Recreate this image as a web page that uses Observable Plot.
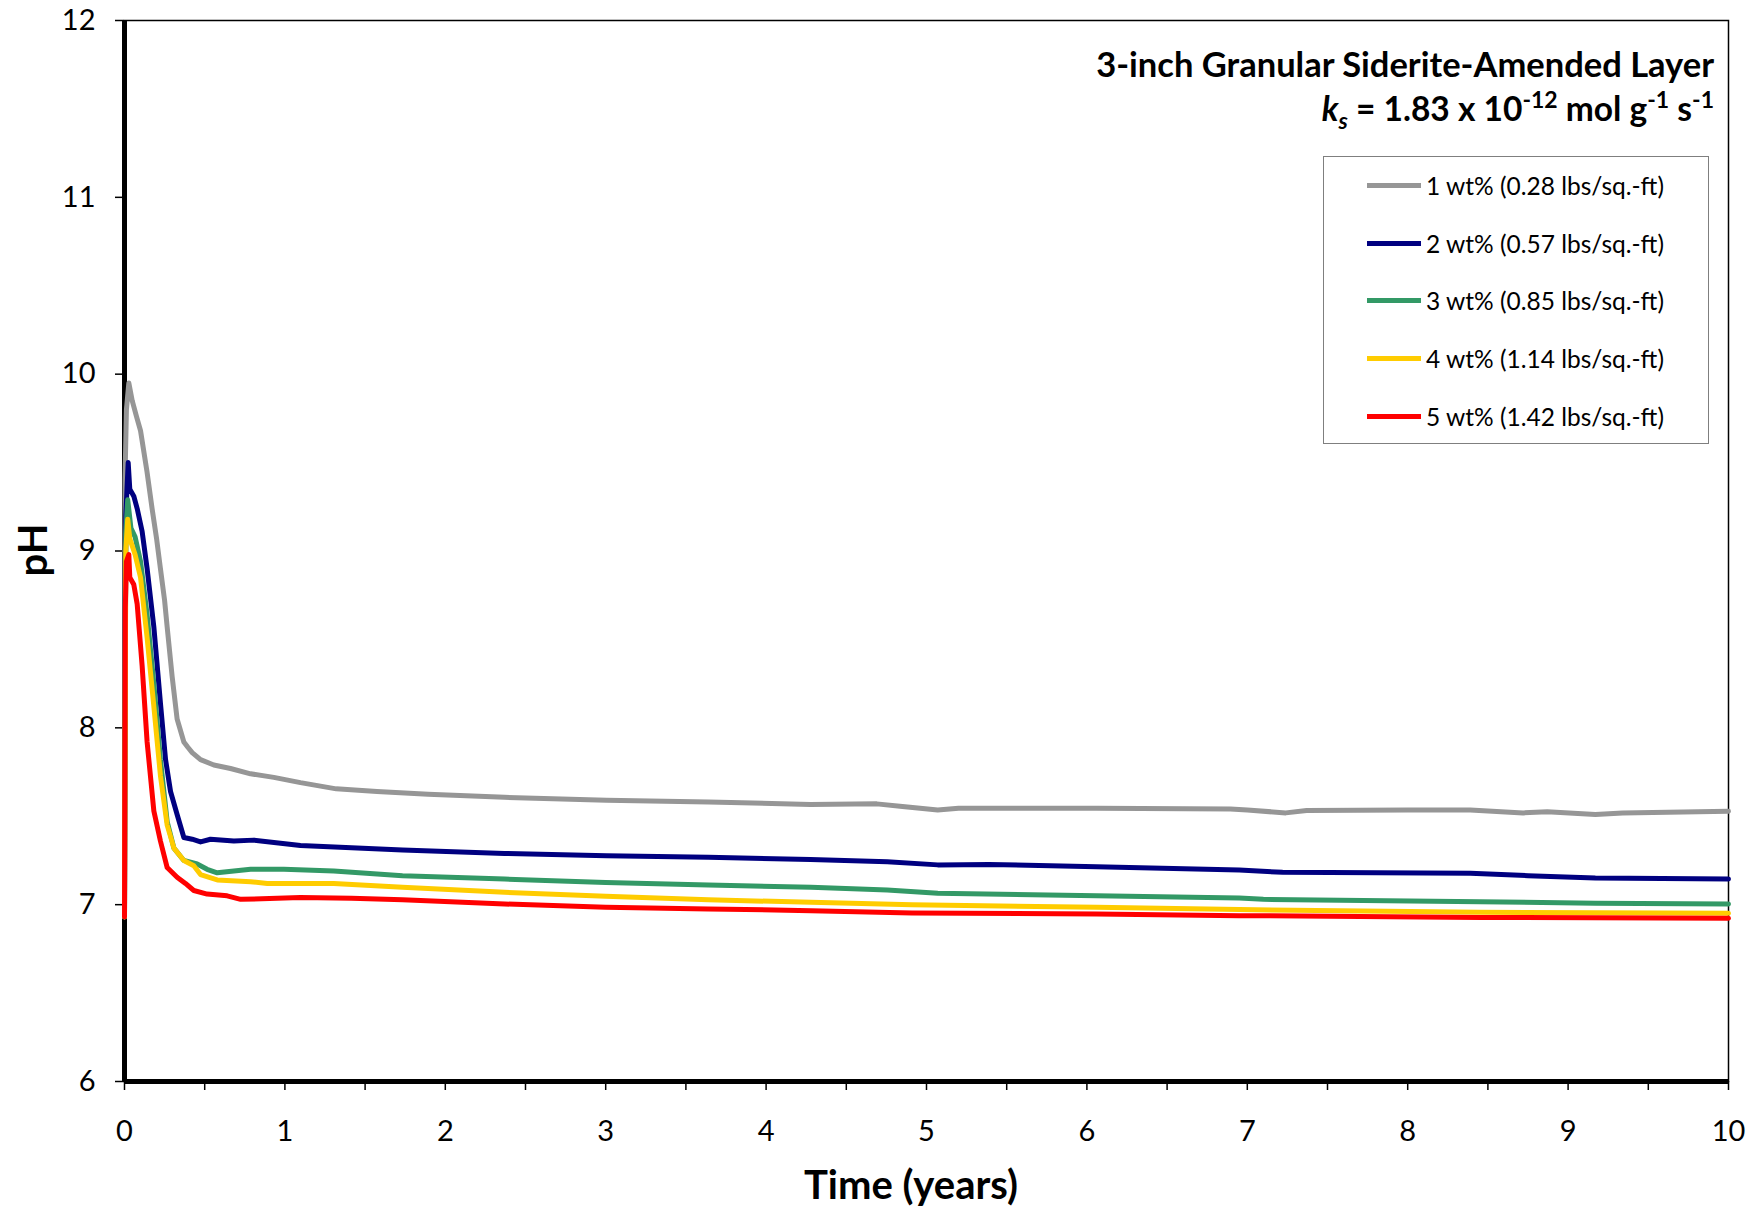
<!DOCTYPE html>
<html>
<head>
<meta charset="utf-8">
<script src="https://cdn.jsdelivr.net/npm/d3@7"></script>
<script src="https://cdn.jsdelivr.net/npm/@observablehq/plot@0.6"></script>
<style>
  body { margin: 0; background: #fff; }
  #wrap { position: relative; width: 1751px; height: 1211px; font-family: Lato, "Open Sans", sans-serif; }
  #legend { position: absolute; left: 1323px; top: 156px; width: 386px; height: 288px; border: 1px solid #7f7f7f; box-sizing: border-box; background: #fff; }
  .item { position: absolute; left: 43px; height: 30px; display: flex; align-items: center; font-size: 24.5px; color: #000; white-space: nowrap; }
  .sw { width: 54px; height: 5px; margin-right: 5px; }
</style>
</head>
<body>
<div id="wrap"></div>
<script>
// ---- data ----
const seriesNames = [
  "1 wt% (0.28 lbs/sq.-ft)",
  "2 wt% (0.57 lbs/sq.-ft)",
  "3 wt% (0.85 lbs/sq.-ft)",
  "4 wt% (1.14 lbs/sq.-ft)",
  "5 wt% (1.42 lbs/sq.-ft)"
];
const seriesColors = ["#969696", "#000080", "#339966", "#FFCC00", "#FF0000"];

const t1 = [0, 0.003, 0.012, 0.027, 0.048, 0.075, 0.10, 0.14, 0.172, 0.20, 0.224, 0.25, 0.266, 0.297, 0.328, 0.37, 0.395, 0.422, 0.474, 0.557, 0.661, 0.786, 0.931, 1.097, 1.32, 1.574, 1.893, 2.369, 3.005, 3.641, 4.277, 4.69, 4.85, 5.07, 5.2, 6.06, 6.895, 7.0, 7.24, 7.37, 8.0, 8.39, 8.72, 8.87, 9.17, 9.34, 10.0];
const ph1 = [6.93, 9.4, 9.8, 9.95, 9.85, 9.76, 9.68, 9.45, 9.24, 9.07, 8.90, 8.72, 8.57, 8.29, 8.05, 7.92, 7.89, 7.86, 7.82, 7.79, 7.77, 7.74, 7.72, 7.69, 7.655, 7.64, 7.625, 7.607, 7.59, 7.58, 7.567, 7.57, 7.555, 7.535, 7.545, 7.545, 7.541, 7.535, 7.519, 7.532, 7.535, 7.535, 7.519, 7.526, 7.51, 7.519, 7.528];

const t2 = [0, 0.008, 0.023, 0.033, 0.058, 0.079, 0.11, 0.141, 0.183, 0.224, 0.256, 0.287, 0.328, 0.37, 0.422, 0.474, 0.536, 0.682, 0.807, 1.097, 1.733, 2.369, 3.005, 3.64, 4.277, 4.755, 5.07, 5.39, 6.06, 6.95, 7.22, 8.39, 8.75, 9.17, 10];
const ph2 = [6.93, 9.2, 9.50, 9.35, 9.31, 9.24, 9.11, 8.90, 8.57, 8.14, 7.82, 7.64, 7.51, 7.38, 7.37, 7.355, 7.37, 7.36, 7.365, 7.334, 7.309, 7.29, 7.277, 7.268, 7.255, 7.243, 7.225, 7.227, 7.215, 7.196, 7.183, 7.177, 7.164, 7.151, 7.145];

const t3 = [0, 0.008, 0.02, 0.04, 0.066, 0.1, 0.141, 0.183, 0.224, 0.266, 0.308, 0.37, 0.453, 0.515, 0.578, 0.786, 0.994, 1.305, 1.733, 2.37, 3.0, 3.64, 4.28, 4.755, 5.07, 6.06, 6.95, 7.1, 8.45, 9.17, 10];
const ph3 = [6.93, 9.1, 9.29, 9.13, 9.08, 8.94, 8.64, 8.25, 7.82, 7.47, 7.32, 7.25, 7.23, 7.20, 7.18, 7.20, 7.20, 7.19, 7.164, 7.145, 7.126, 7.111, 7.098, 7.083, 7.064, 7.051, 7.038, 7.03, 7.017, 7.008, 7.004];

const t4 = [0, 0.008, 0.02, 0.033, 0.066, 0.1, 0.141, 0.183, 0.224, 0.266, 0.308, 0.37, 0.432, 0.474, 0.578, 0.786, 0.89, 1.305, 1.733, 2.37, 3.0, 3.64, 4.28, 4.91, 6.06, 6.95, 8.45, 10];
const ph4 = [6.93, 9.0, 9.18, 9.07, 8.98, 8.85, 8.51, 8.12, 7.73, 7.45, 7.32, 7.25, 7.22, 7.17, 7.14, 7.13, 7.12, 7.12, 7.098, 7.07, 7.047, 7.028, 7.013, 7.0, 6.985, 6.972, 6.957, 6.951];

const t5 = [0, 0.005, 0.012, 0.027, 0.033, 0.058, 0.079, 0.11, 0.141, 0.183, 0.224, 0.266, 0.328, 0.38, 0.432, 0.515, 0.64, 0.724, 1.097, 1.415, 1.733, 2.37, 3.0, 3.64, 4.28, 4.91, 6.06, 6.95, 8.45, 10];
const ph5 = [6.93, 8.68, 8.94, 8.98, 8.85, 8.81, 8.70, 8.35, 7.92, 7.53, 7.36, 7.21, 7.155, 7.12, 7.08, 7.06, 7.05, 7.03, 7.04, 7.036, 7.028, 7.004, 6.985, 6.976, 6.966, 6.953, 6.947, 6.938, 6.928, 6.923];

const xTicks = [0, 1, 2, 3, 4, 5, 6, 7, 8, 9, 10];
const xMinorTicks = [0.5, 1.5, 2.5, 3.5, 4.5, 5.5, 6.5, 7.5, 8.5, 9.5];
const yTicks = [6, 7, 8, 9, 10, 11, 12];

// ---- build table ----
const times = [t1, t2, t3, t4, t5];
const phs = [ph1, ph2, ph3, ph4, ph5];
const rows = [];
seriesNames.forEach((name, i) => {
  times[i].forEach((t, j) => rows.push({series: name, t, ph: phs[i][j]}));
});

const W = 1751, H = 1211;
const chart = Plot.plot({
  width: W,
  height: H,
  marginLeft: 124,
  marginRight: 23,
  marginTop: 20,
  marginBottom: 130,
  style: {fontFamily: "Lato, 'Open Sans', sans-serif", fontSize: "29px", color: "#000", background: "#fff"},
  x: {domain: [0, 10]},
  y: {domain: [6, 12]},
  color: {domain: seriesNames, range: seriesColors},
  marks: [
    Plot.frame({stroke: "#000", strokeWidth: 1.5}),
    Plot.axisX({ticks: xTicks, tickSize: 9, tickPadding: 30, tickFormat: d => String(d), label: null, strokeWidth: 1.5}),
    Plot.axisX({ticks: xMinorTicks, tickSize: 9, tickFormat: () => "", label: null, strokeWidth: 1.5}),
    Plot.axisY({ticks: yTicks, tickSize: 9, tickPadding: 20, tickFormat: d => String(d), label: null, strokeWidth: 1.5}),
    Plot.ruleX([0], {stroke: "#000", strokeWidth: 5}),
    Plot.ruleY([6], {stroke: "#000", strokeWidth: 5}),
    Plot.line(rows, {x: "t", y: "ph", z: "series", stroke: "series", strokeWidth: 5, curve: "linear", strokeLinejoin: "round"})
  ]
});

const wrap = document.getElementById("wrap");
wrap.appendChild(chart);

// ---- titles / axis labels as SVG text ----
const svg = d3.select(chart);
const ff = "Lato, 'Open Sans', sans-serif";
svg.append("text")
  .attr("x", 1714).attr("y", 77)
  .attr("text-anchor", "end").attr("font-family", ff)
  .attr("font-size", 34.5).attr("font-weight", "bold").attr("fill", "#000")
  .text("3-inch Granular Siderite-Amended Layer");

const t2el = svg.append("text")
  .attr("x", 1714).attr("y", 121)
  .attr("text-anchor", "end").attr("font-family", ff)
  .attr("font-size", 33.5).attr("font-weight", "bold").attr("fill", "#000");
t2el.append("tspan").attr("font-style", "italic").text("k");
t2el.append("tspan").attr("font-style", "italic").attr("font-size", 23).attr("dy", 8).text("s");
t2el.append("tspan").attr("dy", -8).text(" = 1.83 x 10");
t2el.append("tspan").attr("font-size", 23).attr("dy", -13).text("-12");
t2el.append("tspan").attr("dy", 13).text(" mol g");
t2el.append("tspan").attr("font-size", 23).attr("dy", -13).text("-1");
t2el.append("tspan").attr("dy", 13).text(" s");
t2el.append("tspan").attr("font-size", 23).attr("dy", -13).text("-1");

svg.append("text")
  .attr("x", 911).attr("y", 1199)
  .attr("text-anchor", "middle").attr("font-family", ff)
  .attr("font-size", 40).attr("font-weight", "bold").attr("fill", "#000")
  .text("Time (years)");

svg.append("text")
  .attr("transform", "translate(47,550) rotate(-90)")
  .attr("text-anchor", "middle").attr("font-family", ff)
  .attr("font-size", 40).attr("font-weight", "bold").attr("fill", "#000")
  .text("pH");

// ---- legend ----
const legend = document.createElement("div");
legend.id = "legend";
const itemTops = [13, 71, 128, 186, 244];
seriesNames.forEach((name, i) => {
  const it = document.createElement("div");
  it.className = "item";
  it.style.top = itemTops[i] + "px";
  const sw = document.createElement("span");
  sw.className = "sw";
  sw.style.background = seriesColors[i];
  it.appendChild(sw);
  const lab = document.createElement("span");
  lab.textContent = name;
  it.appendChild(lab);
  legend.appendChild(it);
});
wrap.appendChild(legend);
</script>
</body>
</html>
